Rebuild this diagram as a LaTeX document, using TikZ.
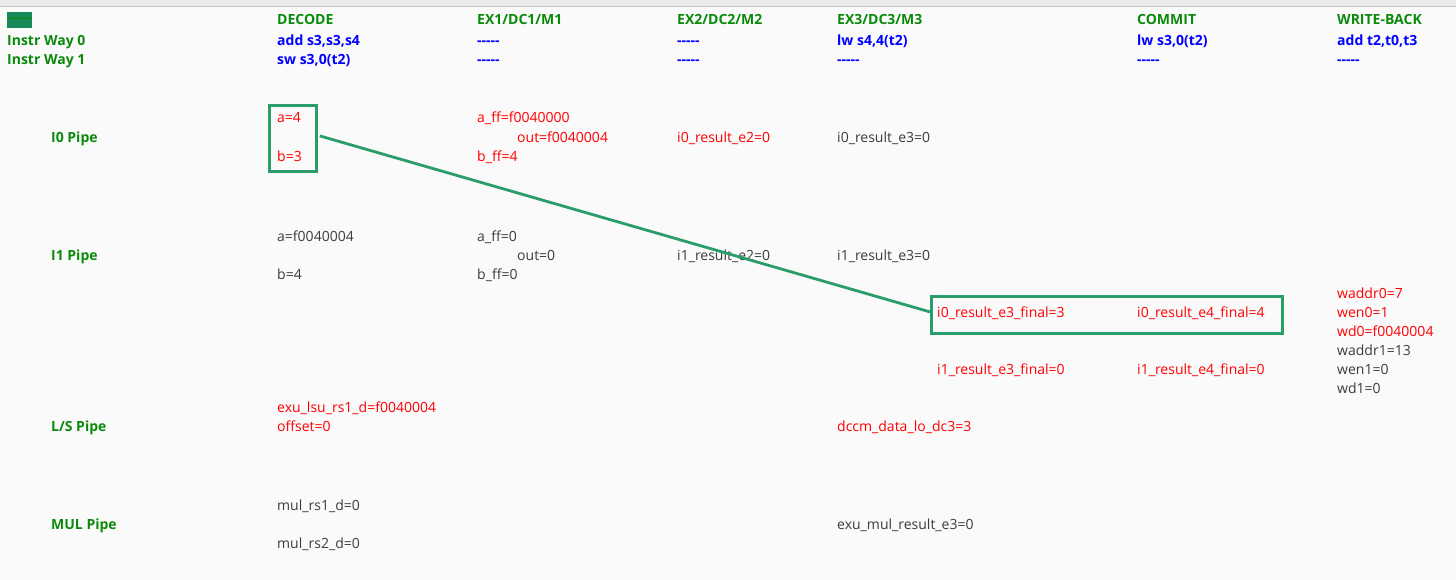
\documentclass[tikz,border=0pt]{standalone}
\usepackage{fontspec}
\usetikzlibrary{calc}
\setmainfont{Open Sans}[Ligatures=TeXOff]
\definecolor{bg}{HTML}{FAFAFA}
\definecolor{topbar}{HTML}{EBEBEB}
\definecolor{topline}{HTML}{C4C4C4}
\definecolor{lblgreen}{HTML}{0A8A0A}
\definecolor{boxgreen}{HTML}{2A9D6A}
\definecolor{sqgreen}{HTML}{168A5A}
\definecolor{instblue}{HTML}{0000FF}
\definecolor{valred}{HTML}{FF0000}
\definecolor{valgrey}{HTML}{3C3C3C}
\tikzset{
  base/.style={anchor=base west, yshift=-5pt, inner sep=0pt, font=\fontsize{14}{16}\selectfont},
  hdr/.style={base, text=lblgreen, font=\fontsize{14}{16}\selectfont\bfseries},
  ins/.style={base, text=instblue, font=\fontsize{14}{16}\selectfont\bfseries},
  red/.style={base, text=valred},
  grey/.style={base, text=valgrey},
  hlbox/.style={draw=boxgreen, line width=2.8pt},
  link/.style={draw=boxgreen, line width=2.8pt},
}
\begin{document}
\begin{tikzpicture}[x=1pt,y=-1pt]
\useasboundingbox (0,0) rectangle (1456,580);
\fill[bg] (0,0) rectangle (1456,580);
\fill[topbar] (0,0) rectangle (1456,6);
\draw[topline, line width=1pt] (0,6.5) -- (1456,6.5);
% legend square
\node[fill=sqgreen, minimum width=25pt, minimum height=16pt, inner sep=0pt, anchor=north west] (sq) at (7,12) {};
\node[text=lblgreen, font=\fontsize{14}{16}\selectfont\bfseries, inner sep=0pt] (sqt) at (sq.center) {-----};
% header labels
\node[hdr] (iw0) at (7,41) {Instr Way 0};
\node[hdr] (iw1) at (7,60) {Instr Way 1};
\node[hdr] (hdec) at (277,20) {DECODE};
\node[hdr] (hex1) at (477,20) {EX1/DC1/M1};
\node[hdr] (hex2) at (677,20) {EX2/DC2/M2};
\node[hdr] (hex3) at (837,20) {EX3/DC3/M3};
\node[hdr] (hcom) at (1137,20) {COMMIT};
\node[hdr] (hwb) at (1337,20) {WRITE-BACK};
\node[ins] (d0) at (277,41) {add s3,s3,s4};
\node[ins] (d1) at (277,60) {sw s3,0(t2)};
\node[ins] (e10) at (477,41) {-----};
\node[ins] (e11) at (477,60) {-----};
\node[ins] (e20) at (677,41) {-----};
\node[ins] (e21) at (677,60) {-----};
\node[ins] (e30) at (837,41) {lw s4,4(t2)};
\node[ins] (e31) at (837,60) {-----};
\node[ins] (c0) at (1137,41) {lw s3,0(t2)};
\node[ins] (c1) at (1137,60) {-----};
\node[ins] (w0) at (1337,41) {add t2,t0,t3};
\node[ins] (w1) at (1337,60) {-----};
% pipe labels
\node[hdr] (pi0) at (51,138) {I0 Pipe};
\node[hdr] (pi1) at (51,255) {I1 Pipe};
\node[hdr] (pls) at (51,426) {L/S Pipe};
\node[hdr] (pmul) at (51,524) {MUL Pipe};
% I0 pipe
\node[red] (i0a) at (277,118) {a=4};
\node[red] (i0b) at (277,157) {b=3};
\node[red] (i0aff) at (477,118) {a\_ff=f0040000};
\node[red] (i0out) at (517,138) {out=f0040004};
\node[red] (i0bff) at (477,157) {b\_ff=4};
\node[red] (i0e2) at (677,138) {i0\_result\_e2=0};
\node[grey] (i0e3) at (837,138) {i0\_result\_e3=0};
% I1 pipe
\node[grey] (i1a) at (277,236) {a=f0040004};
\node[grey] (i1b) at (277,274) {b=4};
\node[grey] (i1aff) at (477,236) {a\_ff=0};
\node[grey] (i1out) at (517,255) {out=0};
\node[grey] (i1bff) at (477,274) {b\_ff=0};
\node[grey] (i1e2) at (677,255) {i1\_result\_e2=0};
\node[grey] (i1e3) at (837,255) {i1\_result\_e3=0};
% finals
\node[red] (f03) at (937,312) {i0\_result\_e3\_final=3};
\node[red] (f04) at (1137,312) {i0\_result\_e4\_final=4};
\node[red] (f13) at (937,369) {i1\_result\_e3\_final=0};
\node[red] (f14) at (1137,369) {i1\_result\_e4\_final=0};
% write-back
\node[red] (wa0) at (1337,293) {waddr0=7};
\node[red] (we0) at (1337,312) {wen0=1};
\node[red] (wd0) at (1337,331) {wd0=f0040004};
\node[grey] (wa1) at (1337,350) {waddr1=13};
\node[grey] (we1) at (1337,369) {wen1=0};
\node[grey] (wd1) at (1337,388) {wd1=0};
% L/S
\node[red] (lrs) at (277,407) {exu\_lsu\_rs1\_d=f0040004};
\node[red] (loff) at (277,426) {offset=0};
\node[red] (ldc) at (837,426) {dccm\_data\_lo\_dc3=3};
% MUL
\node[grey] (m1) at (277,505) {mul\_rs1\_d=0};
\node[grey] (m2) at (277,543) {mul\_rs2\_d=0};
\node[grey] (mr) at (837,524) {exu\_mul\_result\_e3=0};
% highlight boxes
\node[hlbox, inner sep=0pt, minimum width=47pt, minimum height=66pt, anchor=north west] (boxab) at (268,104.5) {};
\node[hlbox, inner sep=0pt, minimum width=351pt, minimum height=37pt, anchor=north west] (boxfin) at (930,295) {};
\coordinate (ls) at ($(boxab.east)+(2,-3)$);
\coordinate (le) at ($(boxfin.west)+(0,-3)$);
\draw[link] (ls) -- (le);
\end{tikzpicture}
\end{document}
